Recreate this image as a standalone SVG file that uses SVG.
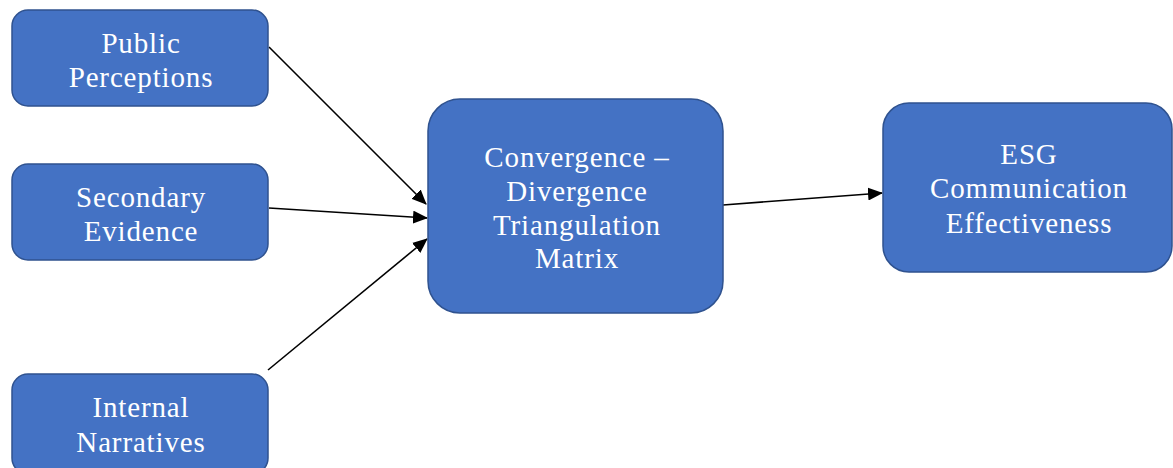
<svg xmlns="http://www.w3.org/2000/svg" width="1173" height="468" viewBox="0 0 1173 468">
<style>
.box{fill:#4472C4;stroke:#2F528F;stroke-width:1.5}
.t{font-family:"Liberation Serif","Times New Roman",serif;font-size:29px;fill:#ffffff;text-anchor:middle;letter-spacing:0.85px}
.c{stroke:#000;stroke-width:1.6;fill:none;marker-end:url(#ah)}
</style>
<defs>
<marker id="ah" markerWidth="15" markerHeight="13" refX="14" refY="6.5" orient="auto" markerUnits="userSpaceOnUse">
<path d="M0,0 L15,6.5 L0,13 Z" fill="#000"/>
</marker>
</defs>
<rect width="1173" height="468" fill="#fff"/>
<g id="connectors">
<line class="c" x1="269" y1="47" x2="426" y2="204"/>
<line class="c" x1="269" y1="208" x2="427" y2="218"/>
<line class="c" x1="268" y1="370" x2="427" y2="239"/>
<line class="c" x1="723" y1="205" x2="882" y2="193"/>
</g>
<g id="public">
<rect class="box" x="12" y="10" width="256" height="96" rx="16"/>
<text class="t" x="141" y="53">Public</text>
<text class="t" x="141" y="87">Perceptions</text>
</g>
<g id="secondary">
<rect class="box" x="12" y="164" width="256" height="96" rx="16"/>
<text class="t" x="141" y="207">Secondary</text>
<text class="t" x="141" y="241">Evidence</text>
</g>
<g id="internal">
<rect class="box" x="12" y="374" width="256" height="100" rx="16"/>
<text class="t" x="141" y="417">Internal</text>
<text class="t" x="141" y="452">Narratives</text>
</g>
<g id="matrix">
<rect class="box" x="428" y="99" width="295" height="214" rx="32"/>
<text class="t" x="577" y="167">Convergence –</text>
<text class="t" x="577" y="201">Divergence</text>
<text class="t" x="577" y="235">Triangulation</text>
<text class="t" x="577" y="268">Matrix</text>
</g>
<g id="esg">
<rect class="box" x="883" y="103" width="289" height="169" rx="26"/>
<text class="t" x="1029" y="164">ESG</text>
<text class="t" x="1029" y="198">Communication</text>
<text class="t" x="1029" y="233">Effectiveness</text>
</g>
</svg>
